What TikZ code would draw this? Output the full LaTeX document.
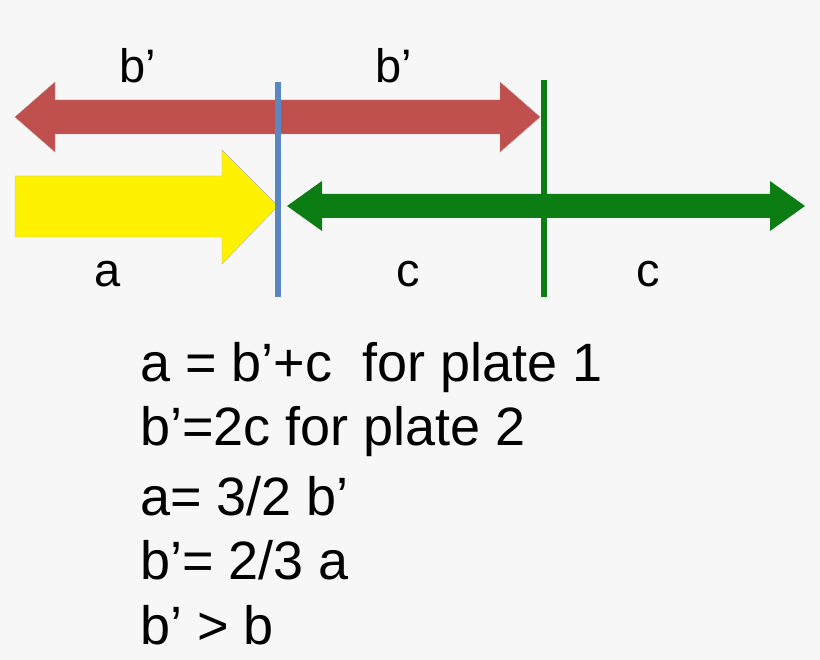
\documentclass[tikz,border=0pt]{standalone}
\usepackage{fontspec}
\setmainfont{Liberation Sans}
\definecolor{bg}{HTML}{F7F7F7}
\definecolor{brick}{HTML}{C0504D}
\definecolor{brickline}{HTML}{8C3B39}
\definecolor{steel}{HTML}{5A87C0}
\definecolor{leaf}{HTML}{0B7D12}
\tikzset{lbl/.style={font=\fontsize{47}{50}\selectfont,inner sep=0pt},
  eq/.style={font=\fontsize{54}{58}\selectfont,anchor=west,inner sep=0pt}}
\begin{document}
\begin{tikzpicture}[x=1pt,y=-1pt]
    \fill[bg] (0,0) rectangle (820,660);
    \useasboundingbox (0,0) rectangle (820,660);

    % red double arrow
    \filldraw[brick,draw=brickline!60] (15,117) -- (55,82) -- (55,100)
    -- (500,100) -- (500,82) -- (540,117) -- (500,152) -- (500,134)
    -- (55,134) -- (55,152) -- cycle;

    % yellow arrow
    \filldraw[yellow,draw=gray!60] (15,176) -- (222,176) -- (222,150)
    -- (278,206) -- (222,264) -- (222,237) -- (15,237) -- cycle;

    % green double arrow
    \fill[leaf] (287,206) -- (322,181) -- (322,194) -- (770,194)
    -- (770,181) -- (805,206) -- (770,231) -- (770,218) -- (322,218)
    -- (322,231) -- cycle;

    % plates
    \draw[steel,line width=6] (278,82) -- (278,297);
    \draw[leaf,line width=6] (544,80) -- (544,297);

    \node[lbl] (b1) at (138,66) {b’};
    \node[lbl] (b2) at (394,66) {b’};
    \node[lbl] (a) at (108,274) {a};
    \node[lbl] (c1) at (408,274) {c};
    \node[lbl] (c2) at (648,274) {c};

    \node[eq] (e1) at (140,368) {a = b’+c\ \ for plate 1};
    \node[eq] (e2) at (140,432) {b’=2c for plate 2};
    \node[eq] (e3) at (140,496) {a= 3/2 b’};
    \node[eq] (e4) at (140,560) {b’= 2/3 a};
    \node[eq] (e5) at (140,625) {b’ > b};
\end{tikzpicture}
\end{document}
